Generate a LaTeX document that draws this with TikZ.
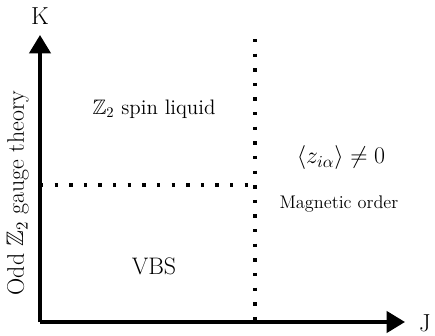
\RequirePackage{fix-cm}
\documentclass[tikz,border=0pt]{standalone}
\usepackage{amsmath,amssymb}
\usetikzlibrary{arrows.meta,positioning}
\tikzset{
  axis/.style={-{Triangle[length=13pt,width=15pt]}, line width=2.6pt, draw=black},
  border/.style={line width=2.4pt, dash pattern=on 2.4pt off 8pt},
  phase/.style={align=center, inner sep=1pt},
  axlabel/.style={font=\fontsize{17.5}{20}\selectfont, inner sep=1pt}
}

\begin{document}
\begin{tikzpicture}[x=0.25mm, y=0.25mm]
  \useasboundingbox (0,0) rectangle (435,335);
  \coordinate (origin) at (40,13);
  \coordinate (ktip) at (40,300);
  \coordinate (jtip) at (405,13);
  \node[axlabel] (klab) at (40,319) {K};
  \node[axlabel] (jlab) at (425,12) {J};
  % phase boundaries
  \coordinate (hleft) at (40,150);
  \coordinate (hright) at (252,150);
  \coordinate (vtop) at (255,296);
  \coordinate (vbot) at (255,13);
  \draw[border] (hleft) -- (hright);
  \draw[border] (vtop) -- (vbot);
  \draw[axis] (origin) -- (ktip);
  \draw[axis] (origin) -- (jtip);
  % phases
  \node[phase, font=\fontsize{14.9}{18}\selectfont] (sl) at (154,226) {$\mathbb{Z}_2$ spin liquid};
  \node[phase, font=\fontsize{17}{20}\selectfont] (order) at (341,177) {$\langle z_{i\alpha}\rangle \neq 0$};
  \node[phase, font=\fontsize{13}{16}\selectfont] (mag) at (339,131) {Magnetic order};
  \node[phase, font=\fontsize{17}{20}\selectfont] (vbs) at (154,69) {VBS};
  \node[phase, rotate=90, font=\fontsize{17}{20}\selectfont] (odd) at (18,142) {Odd $\mathbb{Z}_2$ gauge theory};
\end{tikzpicture}
\end{document}
